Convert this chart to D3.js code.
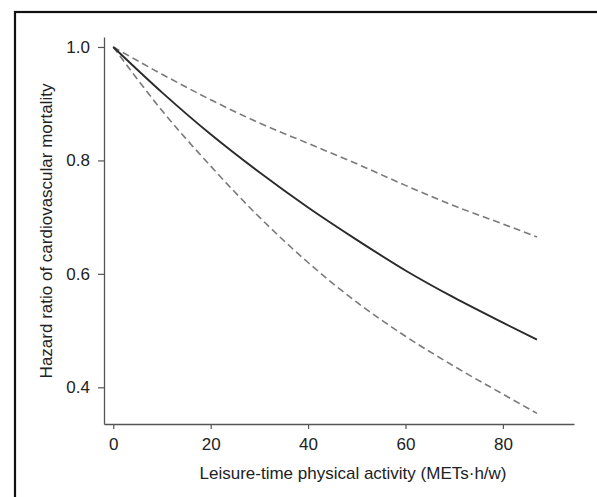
<!DOCTYPE html>
<html>
<head>
<meta charset="utf-8">
<script src="https://cdn.jsdelivr.net/npm/d3@7"></script>
<style>
  body { margin: 0; background: #fff; }
  svg { display: block; }
  text { font-family: "Liberation Sans", Arial, Helvetica, sans-serif; fill: #222; }
</style>
</head>
<body>
<svg id="chart" width="597" height="497"></svg>
<script>
// activity (METs·h/w) at which the curves were read
var activity = [0, 10, 20, 30, 40, 50, 60, 70, 80, 87];
// hazard ratio, point estimate and 95% CI
var hazard = [1.0, 0.920, 0.846, 0.779, 0.717, 0.660, 0.606, 0.558, 0.514, 0.484];
var upperCI = [1.0, 0.952, 0.907, 0.866, 0.830, 0.794, 0.756, 0.720, 0.688, 0.665];
var lowerCI = [1.0, 0.888, 0.790, 0.700, 0.620, 0.550, 0.490, 0.437, 0.388, 0.354];
var xTicks = [0, 20, 40, 60, 80];
var yTicks = [0.4, 0.6, 0.8, 1.0];

var svg = d3.select("#chart");

// outer frame (only top and left edges show)
svg.append("rect")
	.attr("x", 15).attr("y", 12)
	.attr("width", 640).attr("height", 540)
	.attr("fill", "none")
	.attr("stroke", "#111")
	.attr("stroke-width", 2.2);

var x = d3.scaleLinear().domain([-1.9, 94.6]).range([104, 574]);
var y = d3.scaleLinear().domain([0.3353, 1.0176]).range([424, 37]);

var axisColor = "#555";
var fontSize = "17px";

// x axis
var gx = svg.append("g")
	.attr("transform", "translate(0,424)")
	.call(d3.axisBottom(x).tickValues(xTicks).tickFormat(d3.format("d"))
		.tickSizeInner(5).tickSizeOuter(0).tickPadding(9));

// y axis
var gy = svg.append("g")
	.attr("transform", "translate(104,0)")
	.call(d3.axisLeft(y).tickValues(yTicks).tickFormat(d3.format(".1f"))
		.tickSizeInner(6).tickSizeOuter(0).tickPadding(8));

[gx, gy].forEach(function(g) {
	g.select(".domain").attr("stroke", axisColor).attr("stroke-width", 1.3);
	g.selectAll(".tick line").attr("stroke", axisColor).attr("stroke-width", 1.2);
	g.selectAll(".tick text")
		.style("font-size", fontSize)
		.style("font-family", "'Liberation Sans', Arial, sans-serif")
		.attr("fill", "#222");
});

var line = d3.line()
	.x(function(d) { return x(d[0]); })
	.y(function(d) { return y(d[1]); })
	.curve(d3.curveMonotoneX);

function pairs(vals) {
	return activity.map(function(a, i) { return [a, vals[i]]; });
}

svg.append("path")
	.datum(pairs(upperCI))
	.attr("d", line)
	.attr("fill", "none")
	.attr("stroke", "#7a7a7a")
	.attr("stroke-width", 1.6)
	.attr("stroke-dasharray", "7,4");

svg.append("path")
	.datum(pairs(lowerCI))
	.attr("d", line)
	.attr("fill", "none")
	.attr("stroke", "#7a7a7a")
	.attr("stroke-width", 1.6)
	.attr("stroke-dasharray", "7,4");

svg.append("path")
	.datum(pairs(hazard))
	.attr("d", line)
	.attr("fill", "none")
	.attr("stroke", "#2a2a2a")
	.attr("stroke-width", 1.9);

// axis titles
svg.append("text")
	.attr("x", 353).attr("y", 479)
	.attr("text-anchor", "middle")
	.style("font-size", fontSize)
	.text("Leisure-time physical activity (METs\u00B7h/w)");

svg.append("text")
	.attr("transform", "translate(52,231) rotate(-90)")
	.attr("text-anchor", "middle")
	.style("font-size", fontSize)
	.text("Hazard ratio of cardiovascular mortality");
</script>
</body>
</html>
